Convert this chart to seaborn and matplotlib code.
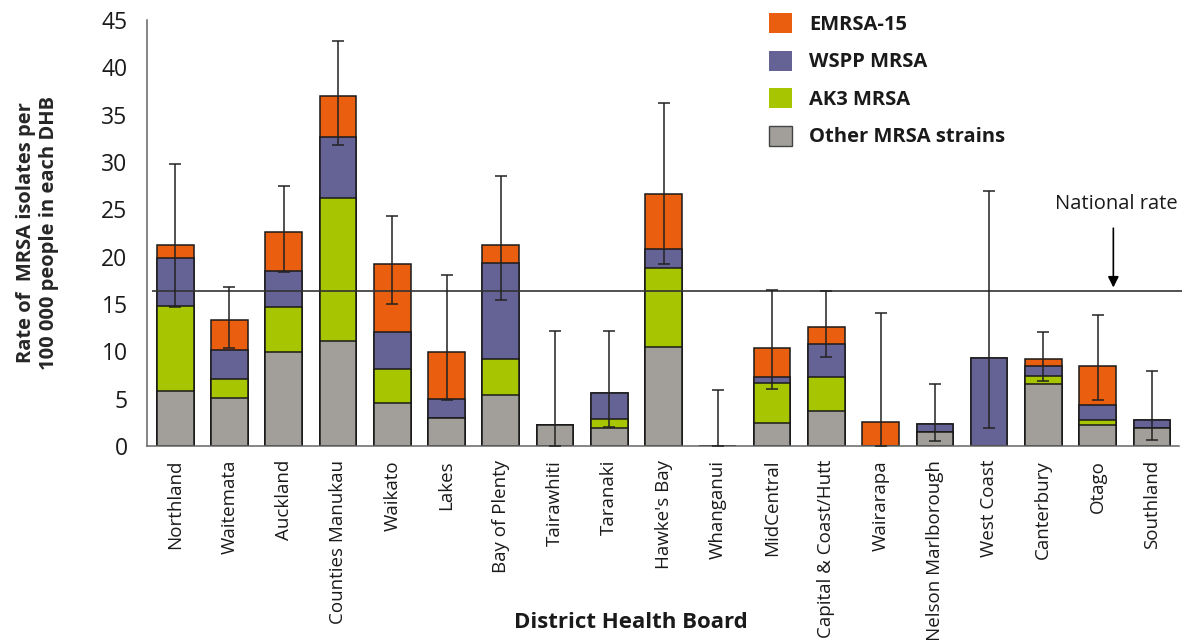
import numpy as np
import pandas as pd
import seaborn as sns
import matplotlib.pyplot as plt
from matplotlib.patches import Patch

# Data (rate per 100 000)
districts = ["Northland", "Waitemata", "Auckland", "Counties Manukau", "Waikato",
             "Lakes", "Bay of Plenty", "Tairawhiti", "Taranaki", "Hawke's Bay",
             "Whanganui", "MidCentral", "Capital & Coast/Hutt", "Wairarapa",
             "Nelson Marlborough", "West Coast", "Canterbury", "Otago", "Southland"]
other = [5.8, 5.1, 9.95, 11.05, 4.5, 3.0, 5.4, 2.2, 1.95, 10.45, 0.0, 2.45, 3.75,
         0.0, 1.5, 0.0, 6.5, 2.2, 1.85]
ak3 = [9.0, 1.95, 4.75, 15.1, 3.6, 0.0, 3.8, 0.0, 0.85, 8.4, 0.0, 4.25, 3.5,
       0.0, 0.0, 0.0, 0.85, 0.5, 0.0]
wspp = [5.1, 3.05, 3.8, 6.45, 3.9, 1.95, 10.1, 0.0, 2.8, 1.95, 0.0, 0.6, 3.5,
        0.0, 0.8, 9.25, 1.15, 1.6, 0.9]
emrsa = [1.35, 3.2, 4.1, 4.35, 7.2, 4.95, 1.95, 0.0, 0.0, 5.85, 0.0, 3.0, 1.8,
         2.55, 0.0, 0.0, 0.7, 4.2, 0.0]
ci_low = [14.65, 10.4, 18.35, 31.75, 14.95, 4.85, 15.45, 0.0, 2.05, 19.2, 0.0,
          6.0, 9.45, 0.0, 0.55, 1.95, 6.85, 4.9, 0.6]
ci_high = [29.8, 16.8, 27.45, 42.8, 24.3, 18.1, 28.5, 12.15, 12.15, 36.2, 5.9,
           16.45, 16.4, 14.0, 6.5, 26.95, 12.05, 13.85, 7.9]
national_rate = 16.35

c_emrsa = "#E95E0F"
c_wspp = "#656295"
c_ak3 = "#A7C500"
c_other = "#A29F9A"
txt = "#1a1a1a"

sns.set_style("white")
plt.rcParams['font.family'] = ['Open Sans', 'DejaVu Sans']
plt.rcParams['text.color'] = txt
plt.rcParams['xtick.color'] = txt
plt.rcParams['ytick.color'] = txt

df = pd.DataFrame({"district": districts, "other": other, "ak3": ak3,
                   "wspp": wspp, "emrsa": emrsa})
df["l_ak3"] = df["other"] + df["ak3"]
df["l_wspp"] = df["l_ak3"] + df["wspp"]
df["total"] = df["l_wspp"] + df["emrsa"]

fig = plt.figure(figsize=(11.82, 6.4), dpi=100)
ax = fig.add_axes([147 / 1182, 1 - 446 / 640, 1032 / 1182, 426 / 640])

# stacked bars by overdrawing cumulative sums
for col, colr in [("total", c_emrsa), ("l_wspp", c_wspp), ("l_ak3", c_ak3), ("other", c_other)]:
    sns.barplot(data=df, x="district", y=col, order=districts, color=colr,
                saturation=1, width=0.675, edgecolor="#1a1a1a", linewidth=1.1, ax=ax)

x = np.arange(len(districts))
tot = df["total"].values
yerr = [tot - np.array(ci_low), np.array(ci_high) - tot]
ax.errorbar(x, tot, yerr=yerr, fmt="none", ecolor="#222222", elinewidth=1.1,
            capsize=4.5, capthick=1.1, zorder=5)

ax.hlines(national_rate, -0.43, 18.56, color="#333333", lw=1.2, zorder=4, clip_on=False)
ax.annotate("", xy=(17.29, national_rate + 0.1), xytext=(17.29, 23.3),
            arrowprops=dict(arrowstyle="-|>", color="black", lw=1.2, mutation_scale=16))
ax.text(17.35, 25.6, "National rate", ha="center", va="center", fontsize=14.5)

ax.set_xlim(-0.52, 18.5)
ax.set_ylim(0, 45)
ax.set_yticks(range(0, 46, 5))
ax.set_xticks(x)
ax.set_xticklabels(districts, rotation=90, fontsize=13.5)
ax.set_xticks(np.arange(-0.5, 18.6, 1), minor=True)
ax.tick_params(axis="x", which="major", length=0, pad=10)
ax.tick_params(axis="x", which="minor", length=8, color="#666666", width=1)
ax.tick_params(axis="y", length=7, color="#666666", width=1, labelsize=16.5, pad=7)
sns.despine(ax=ax)
for s in ["left", "bottom"]:
    ax.spines[s].set_color("#666666")
    ax.spines[s].set_linewidth(1.1)

ax.set_xlabel("")
ax.set_ylabel("Rate of  MRSA isolates per\n100 000 people in each DHB",
              fontsize=14.5, fontweight="bold", linespacing=1.25)
ax.yaxis.set_label_coords(-0.085, 0.5)
fig.text(631 / 1182, 1 - 622 / 640, "District Health Board", ha="center", va="center",
         fontsize=16, fontweight="bold")

handles = [Patch(facecolor=c_emrsa, edgecolor="none"),
           Patch(facecolor=c_wspp, edgecolor="none"),
           Patch(facecolor=c_ak3, edgecolor="none"),
           Patch(facecolor=c_other, edgecolor="#444444", linewidth=1)]
labels = ["EMRSA-15", "WSPP MRSA", "AK3 MRSA", "Other MRSA strains"]
leg = fig.legend(handles, labels, loc="upper left", bbox_to_anchor=(769 / 1182, 1 - 13 / 640),
                 frameon=False, borderpad=0, borderaxespad=0, handlelength=1.15,
                 handleheight=1.15, handletextpad=0.85, labelspacing=0.78,
                 prop={"size": 14.5, "weight": "bold"})

fig.savefig("out.png", dpi=100)
